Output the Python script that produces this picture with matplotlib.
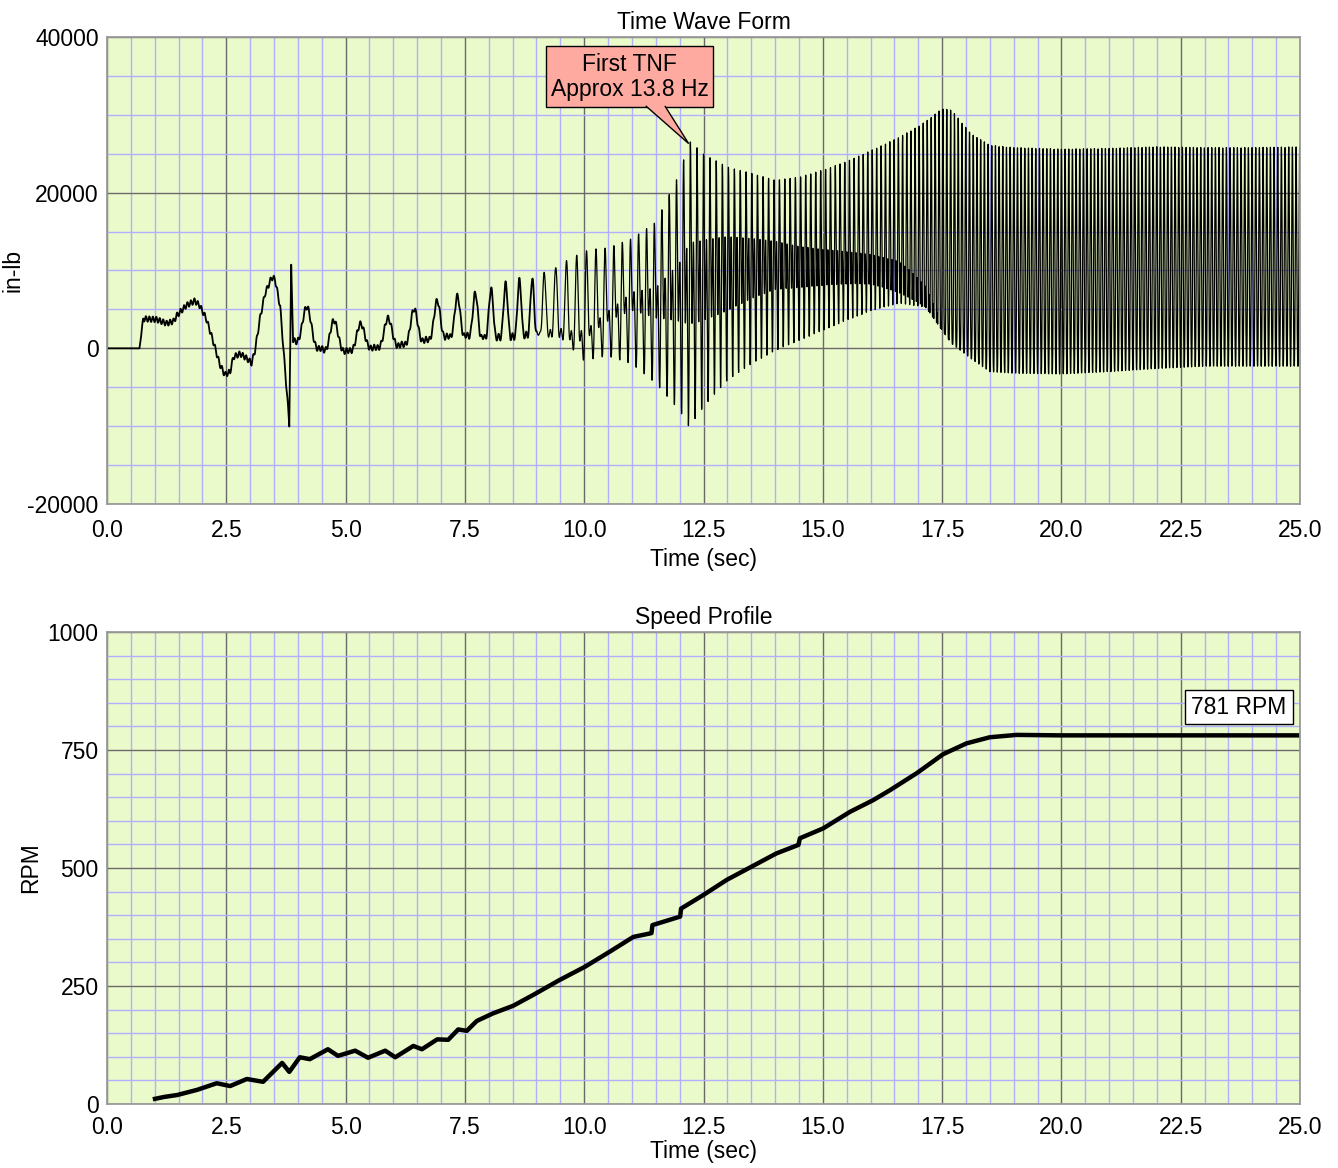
import numpy as np
import matplotlib
matplotlib.use('Agg')
import matplotlib.pyplot as plt
from matplotlib.patches import Rectangle, Polygon
from matplotlib.ticker import MultipleLocator, FormatStrFormatter

plt.rcParams['font.family'] = ['Liberation Sans', 'DejaVu Sans']
plt.rcParams['axes.unicode_minus'] = False

# start-up trace before the shaft oscillation takes over (sec, in-lb)
early_t = [0.0, 0.68, 0.76, 1.04, 1.25, 1.40, 1.46, 1.66, 1.84, 1.94, 2.08, 2.22,
           2.36, 2.47, 2.58, 2.65, 2.79, 2.93, 3.03, 3.10, 3.21, 3.31, 3.45, 3.52,
           3.63, 3.70, 3.77, 3.82, 3.86, 3.90]
early_v = [0, 0, 3800, 3700, 3200, 3500, 4200, 5500, 6100, 5500, 3800, 1000,
           -2000, -3400, -3000, -1100, -700, -1300, -1900, -300, 4000, 7000, 9100, 8900,
           5300, -300, -5800, -9700, 10400, 1000]

# envelope of the torque oscillation
env_t = [3.9, 4.2, 4.6, 5.0, 5.5, 6.0, 6.5, 7.0, 7.5, 8.0, 8.5, 9.0, 9.5, 10.0,
         10.5, 11.0, 11.5, 12.0, 12.2, 12.5, 13.0, 13.5, 14.0, 14.5, 15.0, 15.5,
         16.0, 16.6, 17.15, 17.5, 17.7, 18.1, 18.5, 19.0, 20.0, 21.0, 22.0, 23.0,
         24.0, 25.0]
env_hi = [5800, 5300, 3800, 3200, 3100, 4100, 5200, 6300, 6900, 7500, 8600, 9000,
          11000, 12600, 12900, 14100, 16200, 22500, 26700, 25000, 23300, 22500,
          21600, 22000, 22900, 24000, 25400, 27100, 29100, 30800, 30600, 27600,
          26100, 25800, 25600, 25700, 25900, 25800, 25800, 25900]
env_lo = [1000, 300, -300, -400, 0, 200, 800, 1400, 1600, 1300, 1400, 1800,
          1600, -1500, -1000, -2000, -4500, -8000, -10100, -7500, -4100, -2000,
          -300, 1000, 2300, 3600, 4800, 5800, 5300, 2300, 600, -1300,
          -3000, -3200, -3300, -3000, -2600, -2300, -2300, -2300]
# 2x running speed part: size relative to 1x, and its phase (deg)
harm2 = [0.35, 0.35, 0.35, 0.35, 0.35, 0.35, 0.35, 0.35, 0.35, 0.35, 0.35, 0.35,
         0.45, 0.6, 0.7, 0.85, 0.95, 1.1, 1.2, 1.3, 1.4, 1.3, 1.2, 1.1, 1.0, 0.9,
         0.8, 0.7, 0.5, 0.35, 0.25, 0.2, 0.15, 0.1, 0.1, 0.1, 0.1, 0.1, 0.1, 0.1]
harm2_deg = [-90, -90, -90, -90, -90, -90, -90, -90, -90, -90, -90, -90,
             -90, -60, -30, 0, 0, 0, 0, 0, 0, 0, 0, -15, -30, -45,
             -60, -80, -90, -90, -90, -90, -90, -90, -90, -90, -90, -90, -90, -90]

# ringing at the first torsional natural frequency
tnf_hz = 13.8
tnf_t = [0.0, 0.68, 0.76, 9.0, 10.5, 25.0]
tnf_amp = [0, 0, 350, 350, 0, 0]

# speed profile (sec, RPM)
rpm_t = [0.96, 1.2, 1.47, 1.89, 2.3, 2.58, 2.93, 3.27, 3.67, 3.82, 4.04, 4.25,
         4.63, 4.84, 5.2, 5.47, 5.83, 6.04, 6.42, 6.6, 6.92, 7.15, 7.36, 7.54,
         7.75, 8.09, 8.51, 8.93, 9.49, 10.02, 10.54, 11.03, 11.41, 11.43, 12.01,
         12.03, 12.5, 12.99, 13.51, 14.03, 14.49, 14.52, 15.01, 15.57, 16.06,
         16.41, 16.97, 17.52, 18.01, 18.5, 19.06, 20.0, 22.0, 25.0]
rpm_v = [10, 15, 19, 30, 44, 38, 53, 47, 87, 68, 99, 95, 116, 102, 113, 98, 113,
         99, 123, 116, 137, 136, 158, 155, 176, 192, 208, 231, 263, 291, 323, 354,
         362, 379, 397, 414, 443, 475, 503, 531, 549, 563, 584, 619, 644, 665, 701,
         741, 764, 777, 782, 781, 781, 781]

# build the trace: oscillation follows shaft rotation (phase from speed profile)
dt = 0.002
t = np.arange(0.0, 25.0 + dt / 2, dt)
rev = np.interp(t, rpm_t, rpm_v, left=0) / 60.0
phi = 2 * np.pi * np.cumsum(rev) * dt
phi += np.pi / 2 - np.interp(4.19, t, phi)
r = np.interp(t, env_t, harm2)
th = np.radians(np.interp(t, env_t, harm2_deg))
ring = np.interp(t, tnf_t, tnf_amp)
hi = np.interp(t, env_t, env_hi)
lo = np.interp(t, env_t, env_lo)
g = np.linspace(0, 2 * np.pi, 361)
shape = np.sin(g)[None, :] + r[:, None] * np.sin(2 * g[None, :] + th[:, None])
wmax = shape.max(axis=1)
wmin = shape.min(axis=1)
w = np.sin(phi) + r * np.sin(2 * phi + th)
osc = lo + (w - wmin) / (wmax - wmin) * (hi - lo)
torque = np.where(t < 3.9, np.interp(t, early_t, early_v), osc)
torque = torque + ring * np.sin(2 * np.pi * tnf_hz * t)

W, H = 1338, 1168
fig = plt.figure(figsize=(W / 100, H / 100), dpi=100)
ax1 = fig.add_axes([107 / W, 1 - 504 / H, 1193 / W, 467 / H])
ax2 = fig.add_axes([107 / W, 1 - 1104 / H, 1193 / W, 472 / H])
FS = 16.5


def style(ax, ymin, ymax, ymaj, ymin_step, xpad, lpad):
    ax.set_facecolor('#ebfacb')
    ax.set_xlim(0, 25)
    ax.set_ylim(ymin, ymax)
    ax.xaxis.set_major_locator(MultipleLocator(2.5))
    ax.xaxis.set_minor_locator(MultipleLocator(0.5))
    ax.yaxis.set_major_locator(MultipleLocator(ymaj))
    ax.yaxis.set_minor_locator(MultipleLocator(ymin_step))
    ax.xaxis.set_major_formatter(FormatStrFormatter('%.1f'))
    ax.grid(which='minor', color='#b0b0ff', lw=1.0)
    ax.grid(which='major', color='#6a6a6a', lw=1.0)
    ax.set_axisbelow(True)
    ax.tick_params(which='both', length=0, labelsize=FS)
    ax.tick_params(axis='y', pad=6)
    ax.tick_params(axis='x', pad=xpad)
    for s in ax.spines.values():
        s.set_color('#9a9a9a')
        s.set_linewidth(1.3)
    ax.set_xlabel('Time (sec)', fontsize=FS, labelpad=lpad)


style(ax1, -20000, 40000, 20000, 5000, 11, 4)
style(ax2, 0, 1000, 250, 50, 8.5, 1)

# time wave form
cut = t <= 9.0
ax1.plot(t[cut], torque[cut], color='k', lw=1.3)
ax1.plot(t[~cut], torque[~cut], color='k', lw=0.9)
ax1.set_title('Time Wave Form', fontsize=FS, pad=6)
ax1.set_ylabel('in-lb', fontsize=FS, labelpad=2)

# callout for the first torsional natural frequency
ax1.add_patch(Rectangle((9.2, 30970), 3.5, 7830, fc='#ffaaa0', ec='k', lw=1.0, zorder=5))
ax1.add_patch(Polygon([(11.29, 31150), (12.19, 26300), (11.69, 31150)], closed=False,
                      fc='#ffaaa0', ec='k', lw=1.0, zorder=6))
ax1.text(10.95, 34900, 'First TNF\nApprox 13.8 Hz', fontsize=FS, ha='center',
         va='center', linespacing=1.1, zorder=7)

# speed profile
ax2.plot(rpm_t, rpm_v, color='k', lw=3.2, solid_capstyle='butt')
ax2.set_title('Speed Profile', fontsize=FS, pad=6)
ax2.set_ylabel('RPM', fontsize=FS)
ax2.add_patch(Rectangle((22.6, 805), 2.25, 72, fc='white', ec='k', lw=1.0, zorder=5))
ax2.text(23.72, 841, '781 RPM', fontsize=FS, ha='center', va='center', zorder=6)

fig.savefig('out.png', dpi=100)
